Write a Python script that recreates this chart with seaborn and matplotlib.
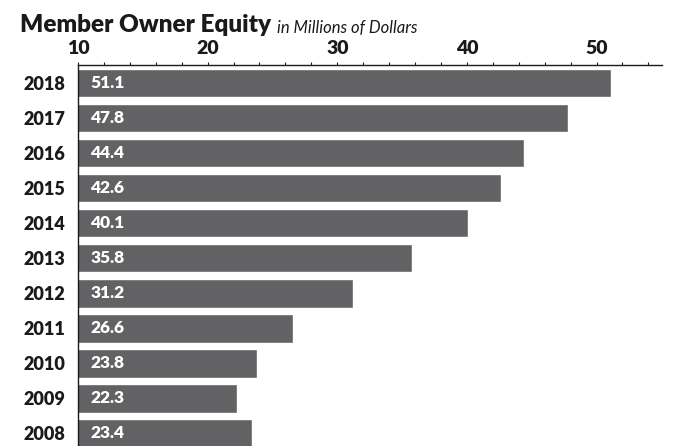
import matplotlib
matplotlib.use("Agg")
import matplotlib.pyplot as plt
import pandas as pd
import seaborn as sns
from matplotlib.ticker import MultipleLocator, FixedLocator

years = ["2018", "2017", "2016", "2015", "2014", "2013", "2012", "2011", "2010", "2009", "2008"]
equity = [51.1, 47.8, 44.4, 42.6, 40.1, 35.8, 31.2, 26.6, 23.8, 22.3, 23.4]
x_ticks = [10, 20, 30, 40, 50]

BAR_COLOR = "#626264"
TEXT_COLOR = "#1a1a1a"


def equity_bar(data: pd.DataFrame) -> None:
    sns.set_style("white")
    plt.rcParams["font.family"] = ["Lato", "DejaVu Sans"]

    fig = plt.figure(figsize=(6.83, 4.46), dpi=100)
    ax = fig.add_axes([78 / 683, 0, (662 - 78) / 683, 1 - 65 / 446])

    sns.barplot(data=data, x="equity", y="year", orient="h", color=BAR_COLOR,
                saturation=1, width=0.81, ax=ax)

    ax.set_xlim(10, 55.05)
    ax.set_ylim(10.36, -0.52)

    # x axis lives on top
    ax.xaxis.tick_top()
    ax.xaxis.set_major_locator(FixedLocator(x_ticks))
    ax.xaxis.set_minor_locator(MultipleLocator(2))
    ax.tick_params(axis="x", which="both", direction="out", length=2.5, width=0.8,
                   color=TEXT_COLOR, pad=3, labelsize=14, labelcolor=TEXT_COLOR)
    for lbl in ax.get_xticklabels():
        lbl.set_fontweight("heavy")

    # year labels, separators between bars
    ax.yaxis.set_minor_locator(FixedLocator([i - 0.5 for i in range(len(years) + 1)]))
    ax.tick_params(axis="y", which="major", length=0, pad=9, labelsize=13,
                   labelcolor=TEXT_COLOR)
    ax.tick_params(axis="y", which="minor", length=4, width=0.8, color="#777777")
    for lbl in ax.get_yticklabels():
        lbl.set_fontweight("heavy")

    for side in ["right", "bottom"]:
        ax.spines[side].set_visible(False)
    for side in ["left", "top"]:
        ax.spines[side].set_color(TEXT_COLOR)
        ax.spines[side].set_linewidth(1.0)
    ax.set_xlabel("")
    ax.set_ylabel("")

    for i, val in enumerate(data["equity"]):
        ax.annotate(f"{val:.1f}", xy=(10, i), xytext=(9, 0), textcoords="offset points",
                    ha="left", va="center", color="white", fontsize=12.5,
                    fontweight="heavy", clip_on=True)

    title = fig.text(20 / 683, 1 - 32 / 446, "Member Owner Equity", fontsize=17.5,
                     fontweight="heavy", color=TEXT_COLOR, va="baseline")
    ax.annotate("in Millions of Dollars", xy=(1, 0), xycoords=title,
                xytext=(4, 0), textcoords="offset points", fontsize=12,
                style="italic", color=TEXT_COLOR, ha="left", va="bottom",
                annotation_clip=False)

    fig.savefig("out.png", dpi=100)
    plt.close(fig)


def main():
    data = pd.DataFrame({"year": years, "equity": equity})
    equity_bar(data)


if __name__ == "__main__":
    main()
